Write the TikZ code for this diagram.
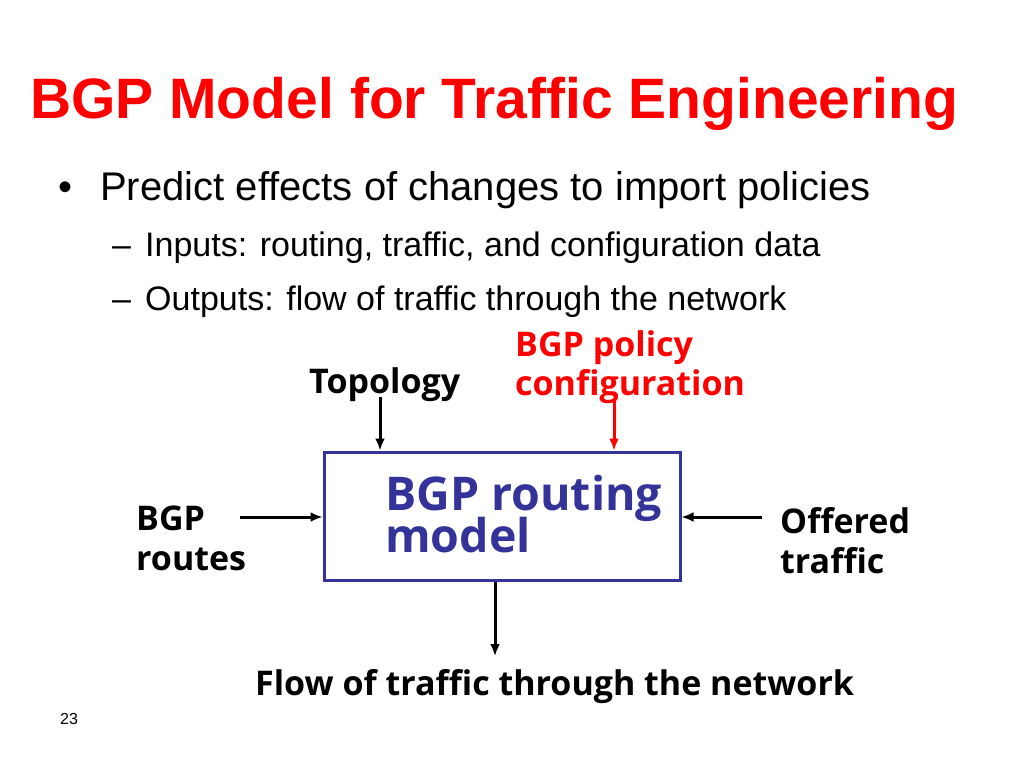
\documentclass[tikz,border=0pt]{standalone}
\usepackage{fontspec}
\setmainfont{Liberation Sans}
\newfontfamily\lblfont{Open Sans}
\usetikzlibrary{arrows.meta, positioning}
\definecolor{boxblue}{RGB}{51,51,153}
\definecolor{titlered}{RGB}{255,0,0}
\tikzset{
  txt/.style={anchor=base west, inner sep=0pt},
  lbl/.style={txt, font=\lblfont\bfseries\fontsize{34}{38}\selectfont},
  flowarrow/.style={-{Latex[length=12pt,width=10pt]}, line width=3pt}
}
\begin{document}
\begin{tikzpicture}[x=1pt,y=-1pt]
		\useasboundingbox (0,0) rectangle (1024,768);
		\node[txt, text=titlered, font=\bfseries\fontsize{57}{64}\selectfont](title) at (30,118) {BGP Model for Traffic Engineering};
		\node[txt, font=\fontsize{40}{44}\selectfont](bul) at (58,200) {\textbullet};
		\node[txt, font=\fontsize{40}{44}\selectfont](pred) at (100,200) {Predict effects of changes to import policies};
		\node[txt, font=\fontsize{34}{36}\selectfont](dash1) at (112,256) {\textendash};
		\node[txt, font=\fontsize{34}{36}\selectfont](inp) at (145,256) {Inputs: routing, traffic, and configuration data};
		\node[txt, font=\fontsize{34}{36}\selectfont](dash2) at (112,310) {\textendash};
		\node[txt, font=\fontsize{34}{36}\selectfont](outp) at (145,310) {Outputs: flow of traffic through the network};
		\node[lbl, text=titlered](pol1) at (515,356) {BGP policy};
		\node[lbl, text=titlered](pol2) at (515,395) {configuration};
		\node[lbl](topo) at (309,393) {Topology};
		\node[lbl](rt1) at (136,530) {BGP};
		\node[lbl](rt2) at (136,570) {routes};
		\node[lbl](off1) at (780,533) {Offered};
		\node[lbl](off2) at (780,573) {traffic};
		\node[draw=boxblue, line width=3pt, minimum width=356pt, minimum height=128pt, inner sep=0pt](model) at (502,516) {};
		\node[txt, text=boxblue, font=\lblfont\bfseries\fontsize{46.5}{50}\selectfont](m1) at (385,510) {BGP routing};
		\node[txt, text=boxblue, font=\lblfont\bfseries\fontsize{46.5}{50}\selectfont](m2) at (385,552) {model};
		\node[lbl](flow) at (255,695) {Flow of traffic through the network};
		\node[txt, font=\rmfamily\fontsize{16}{18}\selectfont](num) at (60,724) {23};
		\coordinate (topoend) at (380,397);
		\coordinate (polend) at (614,400);
		\coordinate (rtend) at (240,517);
		\coordinate (offend) at (762,517);
		\coordinate (flowend) at (495,656);
		\draw[flowarrow] (topoend) -- (topoend |- model.north);
		\draw[flowarrow, titlered] (polend) -- (polend |- model.north);
		\draw[flowarrow] (rtend) -- (model.west |- rtend);
		\draw[flowarrow] (offend) -- (model.east |- offend);
		\draw[flowarrow] (flowend |- model.south) -- (flowend);
	\end{tikzpicture}
\end{document}
